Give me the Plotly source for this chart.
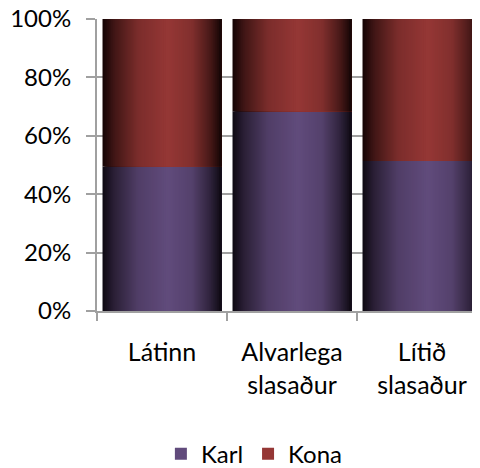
import plotly.graph_objects as go

categories = ["Látinn", "Alvarlega<br>slasaður", "Lítið<br>slasaður"]
karl = [0.495, 0.684, 0.514]
kona = [round(1 - v, 3) for v in karl]
series_names = ["Karl", "Kona"]

FONT = "Lato, 'Open Sans', sans-serif"
N = 60
BAR_W = 0.915

base_cols = {"Karl": (97, 75, 124), "Kona": (149, 55, 53)}
dark_cols = {"Karl": (14, 9, 18), "Kona": (20, 5, 5)}
profile = [(0.0, 0.0), (0.1, 0.35), (0.3, 0.8), (0.55, 1.0), (0.75, 0.85), (0.9, 0.42), (1.0, 0.0)]


def shade(t):
    for (a, fa), (b, fb) in zip(profile[:-1], profile[1:]):
        if a <= t <= b:
            return fa + (fb - fa) * (t - a) / (b - a)
    return 0.0


def color(name, t):
    f = shade(t)
    c0, c1 = dark_cols[name], base_cols[name]
    return "rgb(%d,%d,%d)" % tuple(round(c0[k] + (c1[k] - c0[k]) * f) for k in range(3))


fig = go.Figure()
sw = BAR_W / N
for name, vals, base in [("Karl", karl, None), ("Kona", kona, karl)]:
    for i in range(N):
        t = (i + 0.5) / N
        fig.add_trace(go.Bar(
            x=categories, y=vals, base=base,
            width=[BAR_W - i * sw] * len(categories),
            offset=[-BAR_W / 2 + i * sw] * len(categories),
            marker=dict(color=color(name, t), line=dict(width=0)),
            name=name, legendgroup=name, showlegend=False, hoverinfo="skip",
        ))
    # legend entry
    fig.add_trace(go.Bar(
        x=[categories[0]], y=[None], name=name, legendgroup=name,
        marker=dict(color=color(name, 0.55), line=dict(width=0)), showlegend=True,
    ))

# page body has an 8px margin, so the figure is 8px smaller and shifted
W, H = 472, 460
fig.update_layout(
    barmode="overlay",
    width=W, height=H,
    margin=dict(l=89, r=0, t=11, b=157, autoexpand=False),
    paper_bgcolor="white", plot_bgcolor="white",
    font=dict(family=FONT, size=24, color="black"),
    showlegend=True,
    legend=dict(orientation="h", xref="container", yref="container",
                x=0.522, xanchor="center", y=0.03, yanchor="middle",
                font=dict(size=24), itemwidth=30, traceorder="normal"),
    xaxis=dict(type="category", range=[-0.5, (W - 89) / 130 - 0.5],
               showline=True, linecolor="#A0A0A0", linewidth=2,
               ticks="outside", ticklen=8, tickcolor="#A0A0A0", tickwidth=2,
               tickson="boundaries", showgrid=False, ticklabelstandoff=18,
               tickfont=dict(size=25), automargin=False),
    yaxis=dict(range=[0, 1], tickformat=".0%", tickvals=[0, 0.2, 0.4, 0.6, 0.8, 1.0],
               showline=True, linecolor="#A0A0A0", linewidth=2,
               ticks="outside", ticklen=9, tickcolor="#A0A0A0", tickwidth=2,
               showgrid=True, gridcolor="#A0A0A0", gridwidth=2, zeroline=False,
               ticklabelstandoff=10, tickfont=dict(size=24), automargin=False,
               ticklabeloverflow="allow"),
)

fig.write_html("out.html")
